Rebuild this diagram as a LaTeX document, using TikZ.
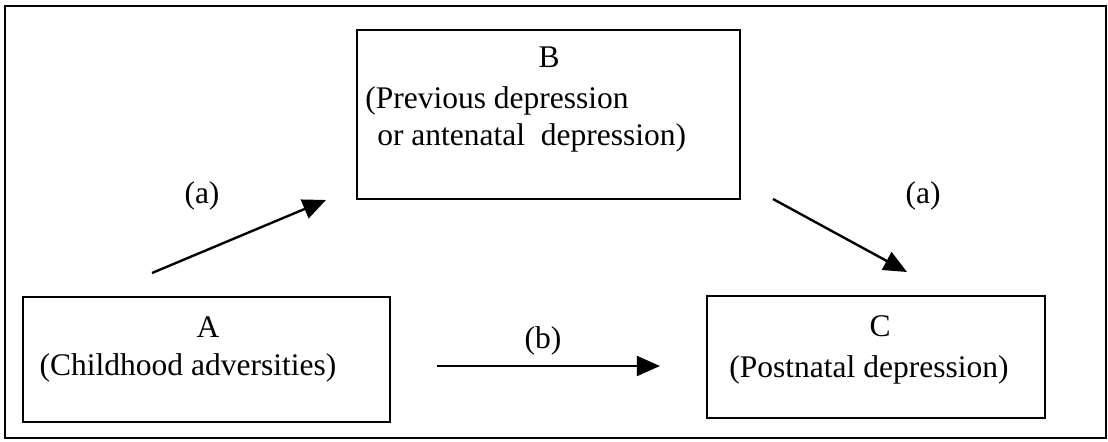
\documentclass[tikz,border=0pt]{standalone}
\usepackage{fontspec}
\setmainfont{Liberation Serif}
\usepackage{tikz}
\usetikzlibrary{arrows.meta, positioning}
\def\pxu{0.025cm}
\tikzset{
  med/frame/.style  = {line width=1.9pt, draw=black},
  med/box/.style    = {rectangle, draw=black, line width=1.6pt, inner sep=0pt},
  med/text/.style   = {font=\fontsize{22.4}{27}\selectfont, inner sep=0pt, anchor=base},
  med/arrow/.style  = {-{Triangle[length=0.58cm, width=0.5cm]}, line width=1.7pt, draw=black},
}
\begin{document}
\begin{tikzpicture}[x=\pxu, y=-\pxu]
      % --- Page size and outer frame ---
      \useasboundingbox (0,0) rectangle (1108,441);
      \draw[med/frame] (5,6) rectangle (1106,438);
      % --- Box centres ---
      \def\xA {206.5}  \def\yA {359.5}
      \def\xB {548.5}  \def\yB {114.5}
      \def\xC {876}    \def\yC {357}
      % --- Boxes ---
      \node[med/box, minimum width=367*\pxu, minimum height=125*\pxu] (boxA) at (\xA, \yA) {};
      \node[med/box, minimum width=383*\pxu, minimum height=169*\pxu] (boxB) at (\xB, \yB) {};
      \node[med/box, minimum width=338*\pxu, minimum height=122*\pxu] (boxC) at (\xC, \yC) {};
      % --- Box texts ---
      \node[med/text] (tB)  at (549, 67)  {B};
      \node[med/text, anchor=base west] (tB1) at (365, 108) {(Previous depression};
      \node[med/text, anchor=base west] (tB2) at (377, 145) {or antenatal\ \ depression)};
      \node[med/text] (tA)  at (208, 337) {A};
      \node[med/text] (tA1) at (188, 375) {(Childhood adversities)};
      \node[med/text] (tC)  at (880, 336) {C};
      \node[med/text] (tC1) at (869, 377) {(Postnatal depression)};
      % --- Arrow end points ---
      \coordinate (a1s) at (152, 273);  \coordinate (a1e) at (326, 200);
      \coordinate (a2s) at (773, 199);  \coordinate (a2e) at (907, 272);
      \coordinate (bs)  at (437, 366);  \coordinate (be)  at (660, 366);
      % --- Arrows ---
      \draw[med/arrow] (a1s) -- (a1e);
      \draw[med/arrow] (a2s) -- (a2e);
      \draw[med/arrow] (bs)  -- (be);
      % --- Path labels ---
      \node[med/text] (la1) at (202, 203) {(a)};
      \node[med/text] (la2) at (923, 203) {(a)};
      \node[med/text] (lb)  at (543, 348) {(b)};
\end{tikzpicture}
\end{document}
